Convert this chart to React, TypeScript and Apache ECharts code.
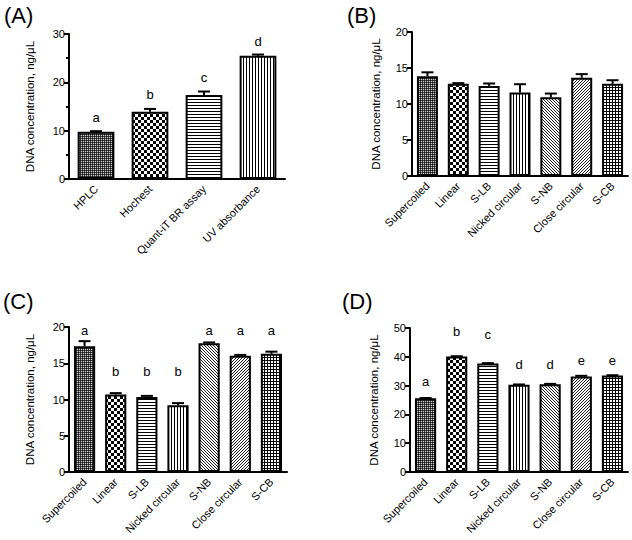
import React, { useEffect, useRef } from "react";
import * as echarts from "echarts";

// ---------- data ----------
const catsA = ["HPLC", "Hochest", "Quant-iT BR assay", "UV absorbance"];
const valsA = [9.8, 13.9, 17.4, 25.5];
const errA = [0.1, 0.6, 0.7, 0.25];
const lettersA = ["a", "b", "c", "d"];
const letterYA = [12.8, 17.4, 21.1, 28.4];
const patA = ["dense", "checker", "hlines", "vlines"];

const catsBCD = ["Supercoiled", "Linear", "S-LB", "Nicked circular", "S-NB", "Close circular", "S-CB"];
const patBCD = ["dense", "checker", "hlines", "vlines", "diagDown", "diagUp", "grid"];

const valsB = [13.85, 12.8, 12.5, 11.6, 10.95, 13.65, 12.8];
const errB = [0.55, 0.1, 0.35, 1.15, 0.5, 0.5, 0.5];

const valsC = [17.35, 10.7, 10.35, 9.2, 17.75, 16.05, 16.3];
const errC = [0.7, 0.18, 0.15, 0.3, 0.12, 0.1, 0.3];
const lettersC = ["a", "b", "b", "b", "a", "a", "a"];
const letterYC = [19.5, 13.9, 13.9, 13.9, 19.5, 19.5, 19.5];

const valsD = [25.6, 40.1, 37.7, 30.3, 30.5, 33.2, 33.5];
const errD = [0.1, 0.1, 0.1, 0.1, 0.1, 0.2, 0.1];
const lettersD = ["a", "b", "c", "d", "d", "e", "e"];
const letterYD = [31.3, 48.9, 47.8, 37.5, 37.5, 38.8, 38.8];

const yMaxes = [30, 20, 20, 50];
const yIntervals = [10, 5, 5, 10];
const panelTitles = ["(A)", "(B)", "(C)", "(D)"];
const yTitle = "DNA concentration, ng/\u03bcL";

const FONT = "'Liberation Sans', Arial, Helvetica, sans-serif";

function makePattern(kind: string): HTMLCanvasElement {
  const c = document.createElement("canvas");
  let w = 3, h = 3;
  if (kind === "dense") { w = 2; h = 2; }
  if (kind === "checker") { w = 6; h = 6; }
  c.width = w; c.height = h;
  const ctx = c.getContext("2d")!;
  ctx.fillStyle = "#fff";
  ctx.fillRect(0, 0, w, h);
  ctx.fillStyle = "#000";
  const px = (x: number, y: number, col = "#000") => { ctx.fillStyle = col; ctx.fillRect(x, y, 1, 1); };
  if (kind === "dense") {
    px(0, 0, "#111"); px(1, 0, "#444"); px(0, 1, "#444"); px(1, 1, "#ccc");
  } else if (kind === "checker") {
    ctx.fillRect(0, 0, 3, 3); ctx.fillRect(3, 3, 3, 3);
  } else if (kind === "hlines") {
    ctx.fillRect(0, 0, w, 1);
  } else if (kind === "vlines") {
    ctx.fillRect(0, 0, 1, h);
  } else if (kind === "diagDown") {
    for (let i = 0; i < 3; i++) px(i, i, "#222");
  } else if (kind === "diagUp") {
    for (let i = 0; i < 3; i++) px(2 - i, i, "#222");
  } else if (kind === "grid") {
    ctx.fillRect(0, 0, w, 1); ctx.fillRect(0, 0, 1, h);
  }
  return c;
}

export default function App() {
  const ref = useRef<HTMLDivElement>(null);
  useEffect(() => {
    if (!ref.current) return;
    const chart = echarts.init(ref.current, undefined, { renderer: "svg" });
    const patterns: Record<string, any> = {};
    [...patA, ...patBCD].forEach((k) => {
      if (!patterns[k]) patterns[k] = { image: makePattern(k), repeat: "repeat" };
    });

    const grids = [
      { left: 69, top: 34, width: 216, height: 145 },
      { left: 412, top: 32, width: 216, height: 144 },
      { left: 69, top: 327, width: 218, height: 145 },
      { left: 410, top: 328, width: 218, height: 144 },
    ];
    const catsList = [catsA, catsBCD, catsBCD, catsBCD];
    const valsList = [valsA, valsB, valsC, valsD];
    const errList = [errA, errB, errC, errD];
    const patList = [patA, patBCD, patBCD, patBCD];
    const letterList: (string[] | null)[] = [lettersA, null, lettersC, lettersD];
    const letterYList: (number[] | null)[] = [letterYA, null, letterYC, letterYD];

    const xAxis = grids.map((_, i) => ({
      type: "category",
      gridIndex: i,
      data: catsList[i],
      axisLine: { lineStyle: { color: "#000", width: 2 } },
      axisTick: { alignWithLabel: true, length: 5, lineStyle: { color: "#000", width: 2 } },
      axisLabel: { rotate: 45, interval: 0, color: "#000", fontSize: 11, fontFamily: FONT, margin: 8 },
    }));
    const yAxis = grids.map((_, i) => ({
      type: "value",
      gridIndex: i,
      min: 0,
      max: yMaxes[i],
      interval: yIntervals[i],
      name: yTitle,
      nameLocation: "middle",
      nameGap: i % 2 === 0 ? 33 : 30,
      nameTextStyle: { color: "#000", fontSize: 11.5, fontFamily: FONT },
      axisLine: { show: true, lineStyle: { color: "#000", width: 2 } },
      axisTick: { show: true, length: 5, lineStyle: { color: "#000", width: 2 } },
      minorTick: { show: i === 0, splitNumber: 2, length: 3, lineStyle: { color: "#000", width: 2 } },
      splitLine: { show: false },
      axisLabel: { color: "#000", fontSize: 11, fontFamily: FONT, margin: 4 },
    }));

    const series: any[] = [];
    grids.forEach((_, i) => {
      series.push({
        type: "bar",
        xAxisIndex: i,
        yAxisIndex: i,
        barWidth: "68%",
        data: valsList[i].map((v, j) => ({
          value: v,
          itemStyle: { color: patterns[patList[i][j]], borderColor: "#000", borderWidth: 2 },
        })),
        z: 2,
      });
      series.push({
        type: "custom",
        xAxisIndex: i,
        yAxisIndex: i,
        z: 3,
        data: valsList[i].map((v, j) => [j, v, errList[i][j]]),
        renderItem: (params: any, api: any) => {
          const idx = api.value(0);
          const v = api.value(1);
          const e = api.value(2);
          if (!e) return null;
          const p0 = api.coord([idx, v]);
          const p1 = api.coord([idx, v + e]);
          return {
            type: "group",
            children: [
              { type: "line", shape: { x1: p0[0], y1: p0[1], x2: p1[0], y2: p1[1] }, style: { stroke: "#000", lineWidth: 2 } },
              { type: "line", shape: { x1: p1[0] - 6, y1: p1[1], x2: p1[0] + 6, y2: p1[1] }, style: { stroke: "#000", lineWidth: 2 } },
            ],
          };
        },
      });
      const letters = letterList[i];
      const ly = letterYList[i];
      if (letters && ly) {
        series.push({
          type: "custom",
          xAxisIndex: i,
          yAxisIndex: i,
          z: 4,
          data: ly.map((y, j) => [j, y]),
          renderItem: (params: any, api: any) => {
            const p = api.coord([api.value(0), api.value(1)]);
            return {
              type: "text",
              x: p[0],
              y: p[1],
              style: {
                text: letters[params.dataIndex],
                fill: "#000",
                fontSize: 13,
                fontFamily: FONT,
                align: "center",
                verticalAlign: "middle",
              },
            };
          },
        });
      }
    });

    const titlePos = [
      { left: 4, top: 4 },
      { left: 347, top: 4 },
      { left: 3, top: 290 },
      { left: 342, top: 290 },
    ];
    const graphic = panelTitles.map((t, i) => ({
      type: "text",
      left: titlePos[i].left,
      top: titlePos[i].top,
      style: { text: t, fontSize: 22, fontFamily: FONT, fill: "#000" },
    }));

    chart.setOption({
      animation: false,
      backgroundColor: "#fff",
      grid: grids,
      xAxis,
      yAxis,
      series,
      graphic,
    });
    return () => chart.dispose();
  }, []);
  return <div ref={ref} style={{ position: "fixed", left: 0, top: 0, width: 632, height: 540 }} />;
}
